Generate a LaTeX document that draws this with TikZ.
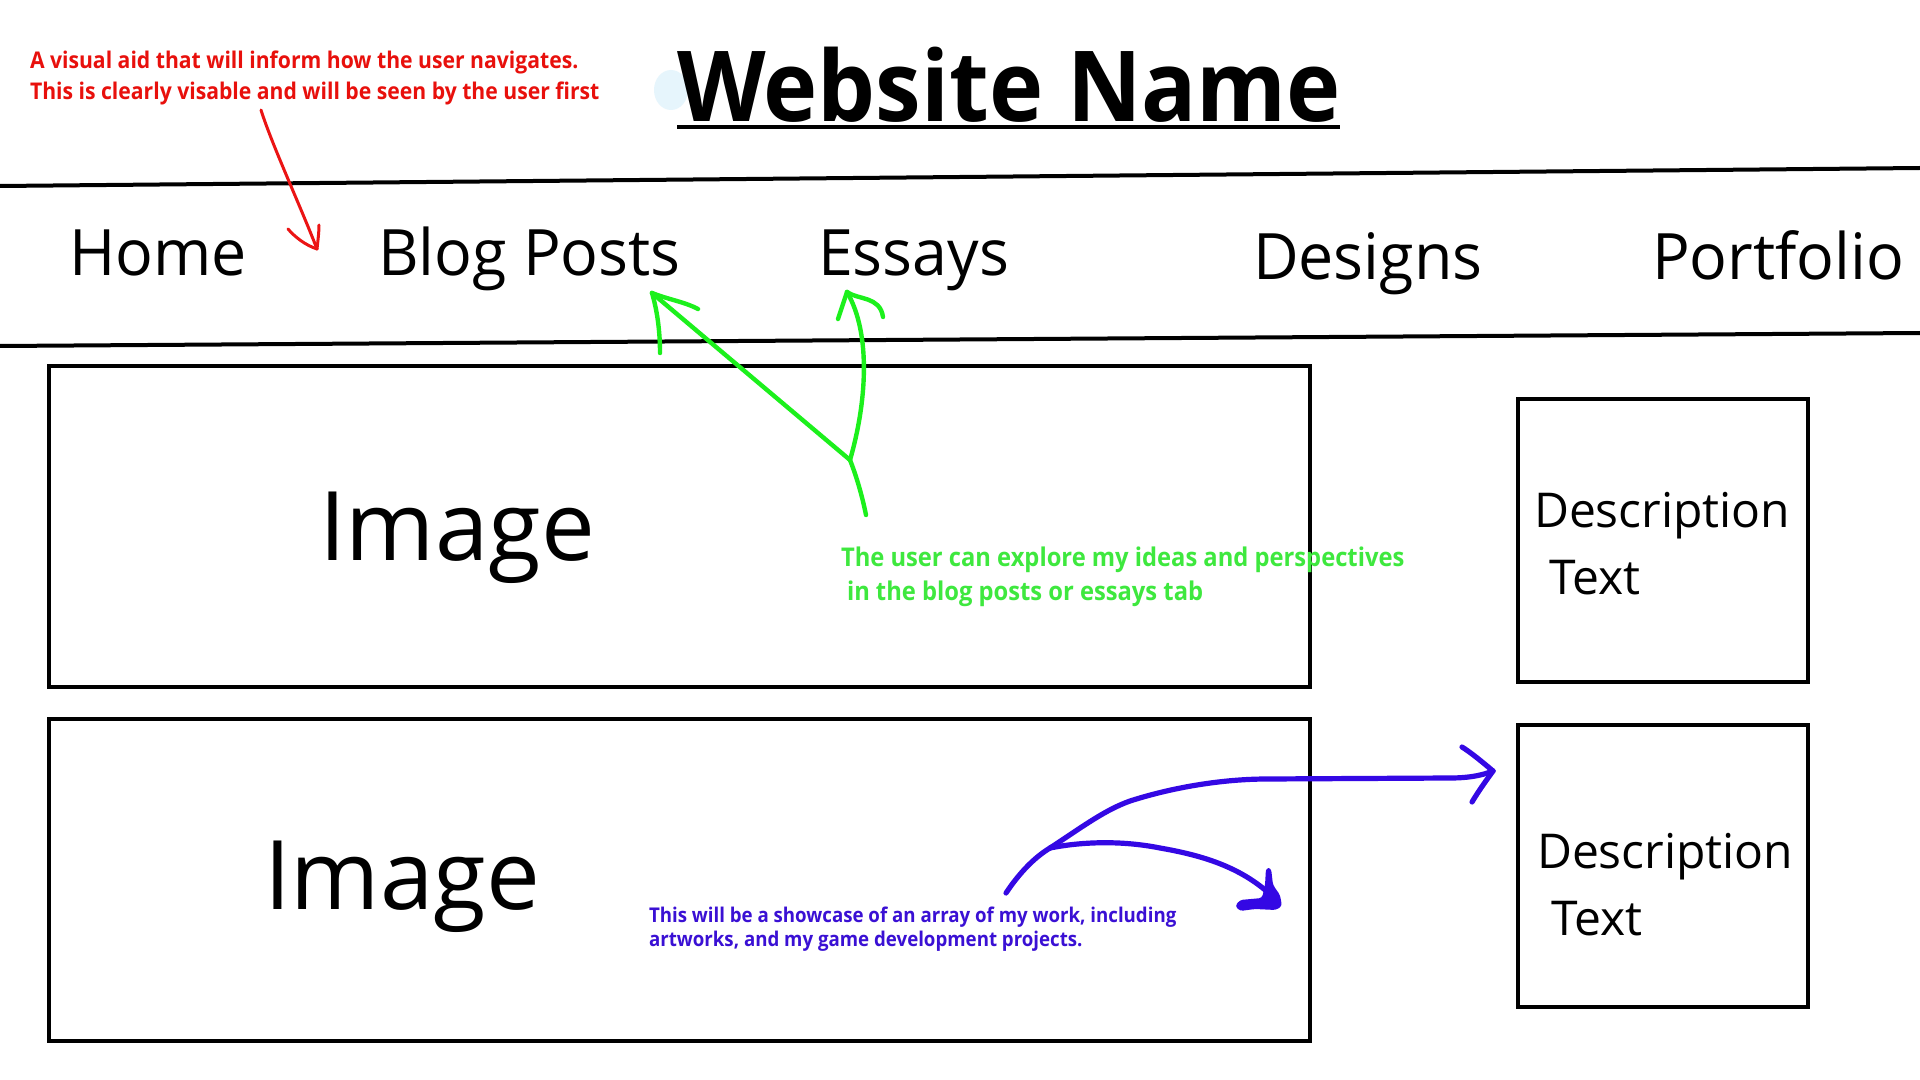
\documentclass[tikz,border=0pt]{standalone}
\usepackage{fontspec}
\setmainfont{Open Sans}
\newfontfamily\notefont[FakeStretch=0.92]{Open Sans}
\newfontfamily\headfont[FakeStretch=0.935]{Open Sans}
\newfontfamily\menufont[FakeStretch=0.98]{Open Sans}
\definecolor{inkred}{RGB}{235,20,20}
\definecolor{txtred}{RGB}{232,16,12}
\definecolor{inkgreen}{RGB}{28,240,28}
\definecolor{txtgreen}{RGB}{62,232,62}
\definecolor{inkblue}{RGB}{52,8,228}
\definecolor{txtblue}{RGB}{58,16,212}
\definecolor{haze}{RGB}{230,245,252}
\begin{document}
\begin{tikzpicture}[x=0.5pt,y=-0.5pt,
  lbl/.style={anchor=base west, inner sep=0pt, outer sep=0pt},
  navitem/.style={lbl, font=\menufont\fontsize{32}{38}\selectfont},
  bigword/.style={lbl, font=\fontsize{48}{58}\selectfont},
  desctext/.style={lbl, font=\fontsize{24}{28}\selectfont},
  titletext/.style={lbl, font=\headfont\bfseries\fontsize{49}{58}\selectfont},
  notetext/.style={lbl, font=\notefont\bfseries\fontsize{11.5}{14}\selectfont},
  greennote/.style={lbl, font=\notefont\bfseries\fontsize{12.9}{15}\selectfont},
  smallnote/.style={lbl, font=\notefont\bfseries\fontsize{10.15}{12}\selectfont},
  boxframe/.style={draw=black, line width=2pt},
  navrule/.style={draw=black, line width=2pt},
  inkpen/.style={line width=#1, line cap=round, line join=round}]

\useasboundingbox (0,0) rectangle (1920,1080);
\fill[white] (0,0) rectangle (1920,1080);

% header
\fill[haze] (671,90) ellipse [x radius=8.5pt, y radius=10pt];
\node[titletext] (title) at (677,122) {Website Name};
\draw[line width=2pt] (677,127) -- (1340,127);

\node[notetext, text=txtred] (redA) at (30,69) {A visual aid that will inform how the user navigates.};
\node[notetext, text=txtred] (redB) at (30,100) {This is clearly visable and will be seen by the user first};

% navigation bar
\draw[navrule] (0,186) -- (1920,168);
\draw[navrule] (0,346) -- (1920,333);
\node[navitem] (home) at (69,276) {Home};
\node[navitem] (blog) at (378,276) {Blog Posts};
\node[navitem] (essays) at (818,276) {Essays};
\node[navitem] (designs) at (1253,280) {Designs};
\node[navitem] (portfolio) at (1652,280) {Portfolio};

% content blocks
\draw[boxframe] (49,366) rectangle (1310,687);
\draw[boxframe] (49,719) rectangle (1310,1041);
\node[bigword] (img1) at (319,560) {Image};
\node[bigword] (img2) at (264,909) {Image};

\draw[boxframe] (1518,399) rectangle (1808,682);
\draw[boxframe] (1518,725) rectangle (1808,1007);
\node[desctext] (d1a) at (1534,527) {Description};
\node[desctext] (d1b) at (1549,594) {Text};
\node[desctext] (d2a) at (1537,868) {Description};
\node[desctext] (d2b) at (1551,935) {Text};

% red pointer
\coordinate (rS) at (261,110);
\coordinate (rT) at (317,249);
\draw[inkpen=1.5pt, inkred] (rS) .. controls (272,145) and (300,205) .. (rT);
\draw[inkpen=1.5pt, inkred] (rT) .. controls (305,245) and (295,237) .. (288,229);
\draw[inkpen=1.5pt, inkred] (rT) .. controls (318,240) and (319,232) .. (319,225);

% green pointers
\coordinate (gJ) at (850,460);
\coordinate (gE) at (866,515);
\coordinate (gL) at (652,293);
\coordinate (gR) at (847,292);
\draw[inkpen=2.2pt, inkgreen] (gE) .. controls (862,495) and (856,475) .. (gJ);
\draw[inkpen=2.2pt, inkgreen] (gJ) -- (gL);
\draw[inkpen=2.2pt, inkgreen] (gL) .. controls (657,310) and (660,330) .. (660,353);
\draw[inkpen=2.2pt, inkgreen] (gL) .. controls (670,300) and (685,302) .. (698,309);
\draw[inkpen=2.2pt, inkgreen] (gJ) .. controls (866,405) and (872,335) .. (gR);
\draw[inkpen=2.2pt, inkgreen] (gR) -- (838,319);
\draw[inkpen=2.2pt, inkgreen] (gR) .. controls (858,300) and (880,296) .. (883,317);
\node[greennote, text=txtgreen] (grA) at (841,566) {The user can explore my ideas and perspectives};
\node[greennote, text=txtgreen] (grB) at (847,600) {in the blog posts or essays tab};

% blue pointers
\coordinate (bS) at (1006,893);
\coordinate (bJ) at (1050,848);
\coordinate (bT) at (1493,771);
\coordinate (bD) at (1272,896);
\draw[inkpen=2.6pt, inkblue] (bS) .. controls (1020,872) and (1035,857) .. (bJ);
\draw[inkpen=2.6pt, inkblue] (bJ) .. controls (1085,825) and (1105,810) .. (1130,801)
  .. controls (1180,785) and (1230,779) .. (1267,779) -- (1450,778)
  .. controls (1470,778) and (1483,775) .. (bT);
\draw[inkpen=2.6pt, inkblue] (bT) .. controls (1480,760) and (1470,752) .. (1462,747);
\draw[inkpen=2.6pt, inkblue] (bT) .. controls (1485,782) and (1478,792) .. (1472,802);
\draw[inkpen=2.6pt, inkblue] (bJ) .. controls (1080,842) and (1120,840) .. (1160,848)
  .. controls (1200,855) and (1240,866) .. (bD);
\fill[inkblue, rounded corners=1.5pt] (1266,868) -- (1271,868) -- (1273,885) -- (1280,895)
  -- (1282,906) -- (1276,910) -- (1255,909) -- (1240,911) -- (1235,906) -- (1240,900)
  -- (1262,898) -- (1265,885) -- cycle;
\node[smallnote, text=txtblue] (blA) at (649,922) {This will be a showcase of an array of my work, including};
\node[smallnote, text=txtblue] (blB) at (649,946) {artworks, and my game development projects.};
\end{tikzpicture}
\end{document}
